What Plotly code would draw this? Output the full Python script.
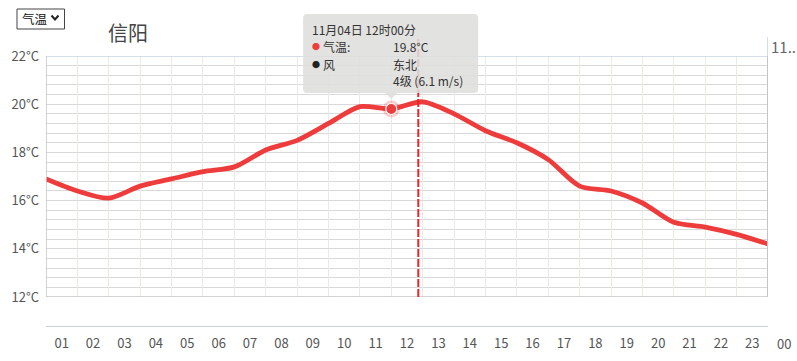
import plotly.graph_objects as go

# ---- data ----
hours = list(range(1, 25))  # 01:00 ... 24:00 (00 next day)
temps = [16.9, 16.4, 16.1, 16.6, 16.9, 17.2, 17.4, 18.1, 18.5, 19.2, 19.9, 19.8,
         20.1, 19.6, 18.9, 18.4, 17.7, 16.6, 16.4, 15.9, 15.1, 14.9, 14.6, 14.2]
hour_labels = ["01", "02", "03", "04", "05", "06", "07", "08", "09", "10", "11", "12",
               "13", "14", "15", "16", "17", "18", "19", "20", "21", "22", "23", "00"]
y_ticks = [12, 14, 16, 18, 20, 22]
y_tick_text = ["12°C", "14°C", "16°C", "18°C", "20°C", "22°C"]
city = "信阳"
sel_hour = 12
sel_temp = 19.8
now_hour = 12.86
tip_title = "11月04日 12时00分"
tip_temp = "19.8°C"
tip_wind_dir = "东北"
tip_wind = "4级 (6.1 m/s)"
next_day_label = "11.."

W, H = 797, 361
L, R, T, BP = 46, 767.7, 56, 326
FONT = "Microsoft YaHei, Noto Sans CJK SC, sans-serif"
RED = "#ee3b3b"


def fx(px):
    return (px - L) / (R - L)


def fy(py):
    return (BP - py) / (BP - T)


def hx(h):
    return L + (h - hours[0]) * (R - L) / (hours[-1] - hours[0])


fig = go.Figure()

fig.add_trace(go.Scatter(x=hours, y=temps, mode="lines",
                         line=dict(color=RED, width=4.8, shape="spline", smoothing=0.8),
                         hoverinfo="skip", showlegend=False))
fig.add_trace(go.Scatter(x=[sel_hour], y=[sel_temp], mode="markers",
                         marker=dict(size=17, color="rgba(238,59,59,0.25)"),
                         hoverinfo="skip", showlegend=False))
fig.add_trace(go.Scatter(x=[sel_hour], y=[sel_temp], mode="markers",
                         marker=dict(size=11, color=RED, line=dict(color="white", width=1.2)),
                         hoverinfo="skip", showlegend=False))
# dummy trace for bottom label axis
fig.add_trace(go.Scatter(x=[hours[0], hours[-1]], y=[None, None], xaxis="x2",
                         mode="lines", hoverinfo="skip", showlegend=False))

shapes = []
ann = []

# borders
shapes.append(dict(type="line", xref="x", yref="y", x0=1, x1=24, y0=22, y1=22,
                   line=dict(color="#c6d4e3", width=1.5)))
shapes.append(dict(type="line", xref="x", yref="y", x0=1, x1=24, y0=12, y1=12,
                   line=dict(color="#c4c4c4", width=1.5)))
shapes.append(dict(type="line", xref="x", yref="y", x0=1, x1=1, y0=12, y1=22,
                   line=dict(color="#c4c4c4", width=1.5)))
shapes.append(dict(type="line", xref="x", yref="y", x0=24, x1=24, y0=12, y1=22,
                   line=dict(color="#c4c4c4", width=2)))
shapes.append(dict(type="line", xref="x", yref="paper", x0=24, x1=24, y0=fy(56), y1=fy(37),
                   line=dict(color="#c6d4e3", width=1.5)))
# current time dashed line
shapes.append(dict(type="line", xref="x", yref="paper", x0=now_hour, x1=now_hour,
                   y0=fy(297), y1=fy(37), line=dict(color="#e8262a", width=2, dash="8px,2px")))

# tooltip box
x0, x1, y0, y1, r = fx(303), fx(478), fy(93), fy(14), 4
rx = r / (R - L)
ry = r / (BP - T)
px_sel = hx(sel_hour)
path = (f"M {x0+rx},{y1} L {x1-rx},{y1} Q {x1},{y1} {x1},{y1-ry} "
        f"L {x1},{y0+ry} Q {x1},{y0} {x1-rx},{y0} "
        f"L {fx(px_sel+6)},{y0} L {fx(px_sel)},{fy(99)} L {fx(px_sel-6)},{y0} "
        f"L {x0+rx},{y0} Q {x0},{y0} {x0},{y0+ry} L {x0},{y1-ry} Q {x0},{y1} {x0+rx},{y1} Z")
shapes.append(dict(type="path", xref="paper", yref="paper", path=path,
                   fillcolor="rgba(222,222,220,0.88)", line=dict(width=0), layer="above"))

# dropdown box
shapes.append(dict(type="rect", xref="paper", yref="paper", x0=fx(17), x1=fx(64.5),
                   y0=fy(29), y1=fy(9), line=dict(color="#444", width=1), fillcolor="white"))
shapes.append(dict(type="path", xref="paper", yref="paper",
                   path=f"M {fx(51.5)},{fy(15.5)} L {fx(55)},{fy(19.5)} L {fx(58.5)},{fy(15.5)}",
                   line=dict(color="#222", width=2)))

ann.append(dict(text="气温", x=fx(20.5), y=fy(18.5), xref="paper", yref="paper",
                xanchor="left", yanchor="middle", showarrow=False,
                font=dict(family=FONT, size=12.5, color="#111")))
ann.append(dict(text=city, x=fx(106), y=fy(32), xref="paper", yref="paper",
                xanchor="left", yanchor="middle", showarrow=False,
                font=dict(family=FONT, size=20, color="#444")))
ann.append(dict(text=next_day_label, x=fx(769), y=fy(46), xref="paper", yref="paper",
                xanchor="left", yanchor="middle", showarrow=False,
                font=dict(family=FONT, size=15, color="#666")))

# tooltip text
tf = dict(family=FONT, size=12, color="#333")
ann.append(dict(text=tip_title, x=fx(310), y=fy(30), xref="paper", yref="paper",
                xanchor="left", yanchor="middle", showarrow=False, font=tf))
ann.append(dict(text="●", x=fx(310), y=fy(47), xref="paper", yref="paper",
                xanchor="left", yanchor="middle", showarrow=False,
                font=dict(family=FONT, size=8, color=RED)))
ann.append(dict(text="气温:", x=fx(321), y=fy(47), xref="paper", yref="paper",
                xanchor="left", yanchor="middle", showarrow=False, font=tf))
ann.append(dict(text=tip_temp, x=fx(391), y=fy(47), xref="paper", yref="paper",
                xanchor="left", yanchor="middle", showarrow=False, font=tf))
ann.append(dict(text="●", x=fx(310), y=fy(64), xref="paper", yref="paper",
                xanchor="left", yanchor="middle", showarrow=False,
                font=dict(family=FONT, size=8, color="#222")))
ann.append(dict(text="风", x=fx(321), y=fy(64), xref="paper", yref="paper",
                xanchor="left", yanchor="middle", showarrow=False, font=tf))
ann.append(dict(text=tip_wind_dir, x=fx(391), y=fy(64), xref="paper", yref="paper",
                xanchor="left", yanchor="middle", showarrow=False, font=tf))
ann.append(dict(text=tip_wind, x=fx(391), y=fy(80), xref="paper", yref="paper",
                xanchor="left", yanchor="middle", showarrow=False, font=tf))

# last hour label beyond the axis range
ann.append(dict(text=hour_labels[-1], x=fx(hx(hours[-1] + 0.5)), y=fy(343),
                xref="paper", yref="paper",
                xanchor="center", yanchor="middle", showarrow=False,
                font=dict(family=FONT, size=13, color="#555")))

fig.update_layout(
    width=W, height=H,
    margin=dict(l=L, r=W - R, t=T, b=H - BP, autoexpand=False),
    paper_bgcolor="white", plot_bgcolor="white",
    font=dict(family=FONT),
    showlegend=False,
    shapes=shapes, annotations=ann,
    xaxis=dict(range=[1, 24], tickvals=hours, showticklabels=False, showgrid=True,
               gridcolor="#ebebe4", gridwidth=1, zeroline=False, showline=False,
               ticks="", anchor="y", fixedrange=True, automargin=False),
    xaxis2=dict(range=[1, 24], overlaying="x", anchor="free", position=0, side="bottom",
                tickvals=[h + 0.5 for h in hours[:-1]], ticktext=hour_labels[:-1],
                showgrid=False, zeroline=False, showline=True, linecolor="#c8d0da",
                linewidth=1, ticks="", tickfont=dict(family=FONT, size=13, color="#555"),
                ticklabelstandoff=5, automargin=False),
    yaxis=dict(domain=[fy(297), 1], range=[12, 22], tickvals=y_ticks, ticktext=y_tick_text,
               showgrid=True, gridcolor="#d9d9d9", gridwidth=1, zeroline=False,
               showline=False, ticks="", ticklabelstandoff=6, automargin=False,
               tickfont=dict(family=FONT, size=13, color="#555"),
               minor=dict(tick0=12, dtick=0.4, showgrid=True, gridcolor="#d9d9d9",
                          gridwidth=1, ticks="")),
)

fig.write_html("out.html", config={"displayModeBar": False},
               post_script="document.body.style.margin='0';document.body.style.overflow='hidden';")
